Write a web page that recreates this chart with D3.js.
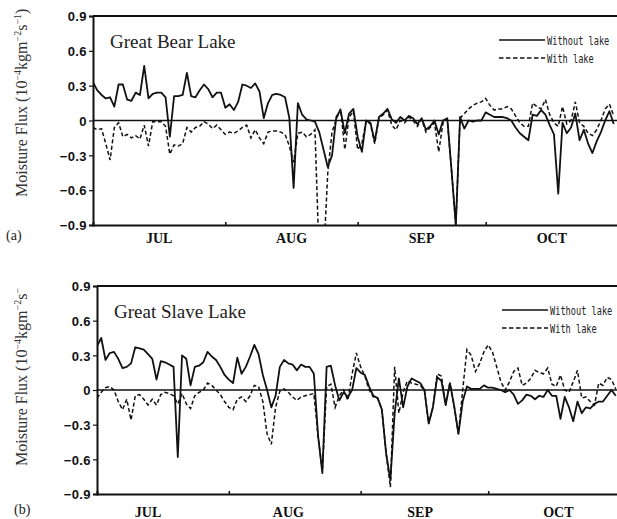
<!DOCTYPE html>
<html><head><meta charset="utf-8">
<script src="https://cdn.jsdelivr.net/npm/d3@7"></script>
<style>body{margin:0;background:#fff;overflow:hidden}</style>
</head><body>
<svg id="c" width="617" height="519"></svg>
<script>
// ---------- data ----------
const months = ["JUL", "AUG", "SEP", "OCT"];
const monthStartDays = [0, 31, 62, 92];
const bearMonthLabelDays = [15.5, 46.5, 77, 107.5];
const slaveMonthLabelDays = [12, 45, 76, 108.5];
const yTickValues = [0.9, 0.6, 0.3, 0, -0.3, -0.6, -0.9];
const yTickLabels = ["0.9", "0.6", "0.3", "0", "\u22120.3", "\u22120.6", "\u22120.9"];
const seriesNames = ["Without lake", "With lake"];

// Great Bear Lake, daily Jul 1 - Oct 31
const bearWithout = [
 0.33,0.26,0.22,0.19,0.20,0.12,0.31,0.31,0.18,0.17,
 0.24,0.22,0.47,0.19,0.23,0.24,0.24,0.20,-0.14,0.21,
 0.21,0.22,0.41,0.21,0.20,0.26,0.31,0.27,0.20,0.24,
 0.24,0.11,0.14,0.09,0.16,0.31,0.30,0.28,0.32,0.25,
 0.02,0.15,0.22,0.23,0.22,0.20,0.02,-0.58,0.15,0.05,
 0.01,0.00,-0.01,-0.10,-0.25,-0.40,-0.30,0.03,0.09,-0.11,
 0.06,0.10,-0.14,-0.27,0.00,-0.02,-0.18,0.03,0.06,0.10,
 0.01,-0.02,0.03,0.00,0.04,0.02,-0.03,0.02,-0.08,-0.05,
 0.00,-0.12,0.00,0.02,-0.43,-0.90,0.03,-0.07,0.00,-0.01,
 0.00,0.00,0.07,0.05,0.03,0.03,0.03,0.02,0.00,-0.06,
 -0.11,-0.14,-0.17,0.05,0.04,0.09,0.05,-0.04,-0.12,-0.63,
 -0.02,-0.11,-0.06,0.06,-0.17,-0.08,-0.20,-0.28,-0.18,-0.10,
 0.00,0.08,-0.03
];
const bearWith = [
 -0.06,-0.08,-0.07,-0.20,-0.34,-0.06,-0.02,-0.14,-0.12,-0.15,
 -0.13,-0.16,-0.04,-0.22,-0.01,-0.01,-0.01,-0.05,-0.29,-0.21,
 -0.22,-0.20,-0.06,-0.10,-0.06,-0.05,-0.01,-0.03,-0.07,-0.04,
 -0.08,-0.12,-0.10,-0.11,-0.09,-0.06,-0.04,-0.15,-0.08,-0.15,
 -0.20,-0.10,-0.09,-0.09,-0.10,-0.12,-0.22,-0.36,-0.11,-0.10,
 -0.14,-0.12,-0.08,-1.20,-1.20,-0.45,-0.10,0.01,0.10,-0.25,
 0.03,0.08,-0.25,-0.20,0.00,-0.03,-0.20,0.02,0.05,0.09,
 -0.04,-0.08,0.00,-0.02,0.03,0.00,-0.05,0.01,-0.10,-0.06,
 -0.02,-0.27,-0.02,0.01,-0.43,-0.90,0.02,0.06,0.10,0.13,
 0.15,0.16,0.19,0.13,0.09,0.10,0.10,0.12,0.10,0.04,
 -0.02,-0.05,-0.05,0.15,0.12,0.10,0.18,0.05,-0.02,-0.05,
 0.12,-0.03,0.00,0.16,-0.02,-0.05,-0.11,-0.13,-0.08,0.00,
 0.10,0.14,0.04
];
// Great Slave Lake, daily Jul 1 - Oct 31
const slaveWithout = [
 0.38,0.45,0.26,0.32,0.33,0.27,0.19,0.20,0.23,0.37,
 0.36,0.35,0.31,0.27,0.09,0.25,0.24,0.22,0.20,-0.58,
 0.30,0.27,0.04,0.20,0.21,0.24,0.33,0.29,0.26,0.20,
 0.13,0.09,0.06,0.28,0.14,0.20,0.29,0.39,0.31,0.13,
 0.00,-0.15,-0.05,0.20,0.26,0.23,0.22,0.17,0.22,0.20,
 0.20,0.14,-0.40,-0.72,0.20,0.21,0.04,-0.09,-0.02,-0.06,
 0.00,0.19,0.15,0.13,0.03,-0.05,-0.07,-0.17,-0.55,-0.78,
 -0.20,0.10,-0.15,0.03,0.10,0.08,0.06,0.00,-0.29,-0.15,
 0.11,0.08,-0.13,0.06,-0.14,-0.38,-0.10,0.03,0.01,0.01,
 0.01,0.04,0.02,0.02,0.01,0.00,-0.02,0.00,-0.04,-0.12,
 -0.09,-0.04,-0.05,-0.08,-0.05,-0.06,0.00,-0.05,-0.05,-0.25,
 -0.06,-0.15,-0.27,-0.10,-0.20,-0.15,-0.16,-0.12,-0.10,-0.10,
 -0.05,0.00,-0.05
];
const slaveWith = [
 -0.07,-0.02,0.02,0.03,0.00,-0.10,-0.17,-0.08,-0.26,-0.05,
 -0.04,-0.08,-0.13,-0.08,-0.13,-0.04,-0.02,-0.03,-0.05,-0.12,
 -0.03,-0.12,-0.16,-0.05,-0.02,0.00,0.06,0.04,0.00,-0.04,
 -0.10,-0.15,-0.17,-0.08,-0.06,-0.10,-0.05,0.04,0.03,-0.10,
 -0.38,-0.47,-0.15,-0.01,0.01,-0.02,-0.06,-0.09,-0.06,-0.05,
 -0.04,-0.03,-0.40,-0.70,0.03,0.05,-0.15,-0.05,0.00,-0.09,
 0.14,0.32,0.20,0.12,0.00,-0.06,-0.07,-0.17,-0.55,-0.84,
 0.20,-0.20,-0.02,0.08,0.06,0.05,0.04,0.00,-0.29,-0.15,
 0.14,0.12,-0.13,0.06,-0.14,-0.38,0.00,0.35,0.30,0.16,
 0.23,0.33,0.39,0.33,0.20,0.07,0.00,0.07,0.16,0.19,
 0.04,0.06,0.10,0.17,0.15,0.14,0.19,0.05,0.03,0.13,
 0.00,-0.02,0.07,0.17,-0.07,-0.06,-0.10,-0.13,0.06,0.04,
 0.11,0.09,0.01
];

// ---------- drawing ----------
const svg = d3.select("#c");
const ink = "#111";
const nDays = 123;

function drawPanel(cfg) {
  const g = svg.append("g");
  const x = d3.scaleLinear().domain([0, nDays]).range([cfg.left, cfg.right]);
  const y = d3.scaleLinear().domain([-0.9, 0.9]).range([cfg.bottom, cfg.top]);

  const clipId = "clip" + cfg.id;
  svg.append("clipPath").attr("id", clipId).append("rect")
    .attr("x", cfg.left).attr("y", cfg.top)
    .attr("width", cfg.right - cfg.left).attr("height", cfg.bottom - cfg.top);

  const line = d3.line().x((d, i) => x(i)).y(d => y(d));
  const plot = g.append("g").attr("clip-path", `url(#${clipId})`);
  // zero line
  plot.append("line").attr("x1", cfg.left).attr("x2", cfg.right)
    .attr("y1", y(0)).attr("y2", y(0)).attr("stroke", ink).attr("stroke-width", 1.6);
  plot.append("path").attr("d", line(cfg.withLake)).attr("fill", "none")
    .attr("stroke", ink).attr("stroke-width", 1.5).attr("stroke-dasharray", "4,2.5");
  plot.append("path").attr("d", line(cfg.withoutLake)).attr("fill", "none")
    .attr("stroke", ink).attr("stroke-width", 1.8).attr("stroke-linejoin", "round");

  // frame top
  g.append("line").attr("x1", cfg.left).attr("x2", cfg.right)
    .attr("y1", cfg.top).attr("y2", cfg.top).attr("stroke", ink).attr("stroke-width", 2);

  const xAxis = d3.axisBottom(x).tickValues(monthStartDays.slice(1)).tickSize(-3).tickFormat("");
  const xg = g.append("g").attr("transform", `translate(0,${cfg.bottom})`).call(xAxis);
  xg.select(".domain").attr("stroke", ink).attr("stroke-width", 2);
  xg.selectAll(".tick line").attr("stroke", ink).attr("stroke-width", 1.5);

  const yAxis = d3.axisLeft(y).tickValues(yTickValues)
    .tickFormat((d, i) => yTickLabels[i]).tickSize(4).tickPadding(2);
  const yg = g.append("g").attr("transform", `translate(${cfg.left},0)`).call(yAxis);
  yg.select(".domain").attr("stroke", ink).attr("stroke-width", 2);
  yg.selectAll(".tick line").attr("stroke", ink).attr("stroke-width", 1.2);
  yg.selectAll(".tick text").attr("font-family", "Liberation Sans, Arial, sans-serif")
    .attr("font-weight", "bold").attr("font-size", 13).attr("letter-spacing", 0.4)
    .attr("fill", ink).attr("dy", "0.36em");

  // month labels
  g.selectAll(".month").data(months).enter().append("text")
    .attr("x", (d, i) => x(cfg.monthLabelDays[i])).attr("y", cfg.monthY)
    .attr("text-anchor", "middle").attr("font-family", "Liberation Serif, Times New Roman, serif")
    .attr("font-weight", "bold").attr("font-size", 14).attr("fill", ink).text(d => d);

  // lake title
  g.append("text").attr("x", cfg.left + 17).attr("y", cfg.titleY)
    .attr("font-family", "Liberation Serif, Times New Roman, serif").attr("font-size", 19)
    .attr("fill", "#222").text(cfg.title);

  // panel tag
  g.append("text").attr("x", cfg.tagX).attr("y", cfg.tagY)
    .attr("font-family", "Liberation Serif, Times New Roman, serif").attr("font-size", 14)
    .attr("fill", "#222").text(cfg.tag);

  // y title
  const t = g.append("text").attr("transform", `translate(${cfg.yTitleX},${cfg.yTitleY}) rotate(-90)`)
    .attr("font-family", "Liberation Serif, Times New Roman, serif").attr("font-size", 16)
    .attr("fill", "#333");
  let sup = false;
  cfg.yTitleParts.forEach(p => {
    const s = t.append("tspan").text(p[0]);
    if (p[1] && !sup) { s.attr("dy", -6).attr("font-size", 10); sup = true; }
    else if (!p[1] && sup) { s.attr("dy", 6); sup = false; }
    else if (p[1]) { s.attr("font-size", 10); }
  });

  // legend
  const lg = g.append("g");
  const lx1 = cfg.legendX, lx2 = cfg.legendX + 46;
  [0, 1].forEach(k => {
    const ly = cfg.legendY + k * 18;
    lg.append("line").attr("x1", lx1).attr("x2", lx2).attr("y1", ly).attr("y2", ly)
      .attr("stroke", ink).attr("stroke-width", 1.5)
      .attr("stroke-dasharray", k ? "4.5,2.5" : null);
    lg.append("text").attr("transform", `translate(${lx2 + 2},${ly + 4.5}) scale(0.72,1)`)
      .attr("font-family", "DejaVu Sans Mono, monospace").attr("font-size", 12)
      .attr("fill", "#222").text(seriesNames[k]);
  });
}

const titleFull = [["Moisture Flux (10", 0], ["\u22124", 1], ["kgm", 0], ["\u22122", 1], ["s", 0], ["\u22121", 1], [")", 0]];
const titleCut = [["Moisture Flux (10", 0], ["\u22124", 1], ["kgm", 0], ["\u22122", 1], ["s", 0], ["\u2212", 1]];

drawPanel({
  id: "a", left: 93, right: 618, top: 16, bottom: 225,
  withoutLake: bearWithout, withLake: bearWith,
  monthLabelDays: bearMonthLabelDays, monthY: 243,
  title: "Great Bear Lake", titleY: 48, tag: "(a)", tagX: 6, tagY: 240,
  yTitleX: 27, yTitleY: 197, yTitleParts: titleFull,
  legendX: 499, legendY: 40
});
drawPanel({
  id: "b", left: 97, right: 620, top: 286, bottom: 494,
  withoutLake: slaveWithout, withLake: slaveWith,
  monthLabelDays: slaveMonthLabelDays, monthY: 517,
  title: "Great Slave Lake", titleY: 318, tag: "(b)", tagX: 14, tagY: 514,
  yTitleX: 27, yTitleY: 466, yTitleParts: titleCut,
  legendX: 502, legendY: 310
});
</script>
</body></html>
